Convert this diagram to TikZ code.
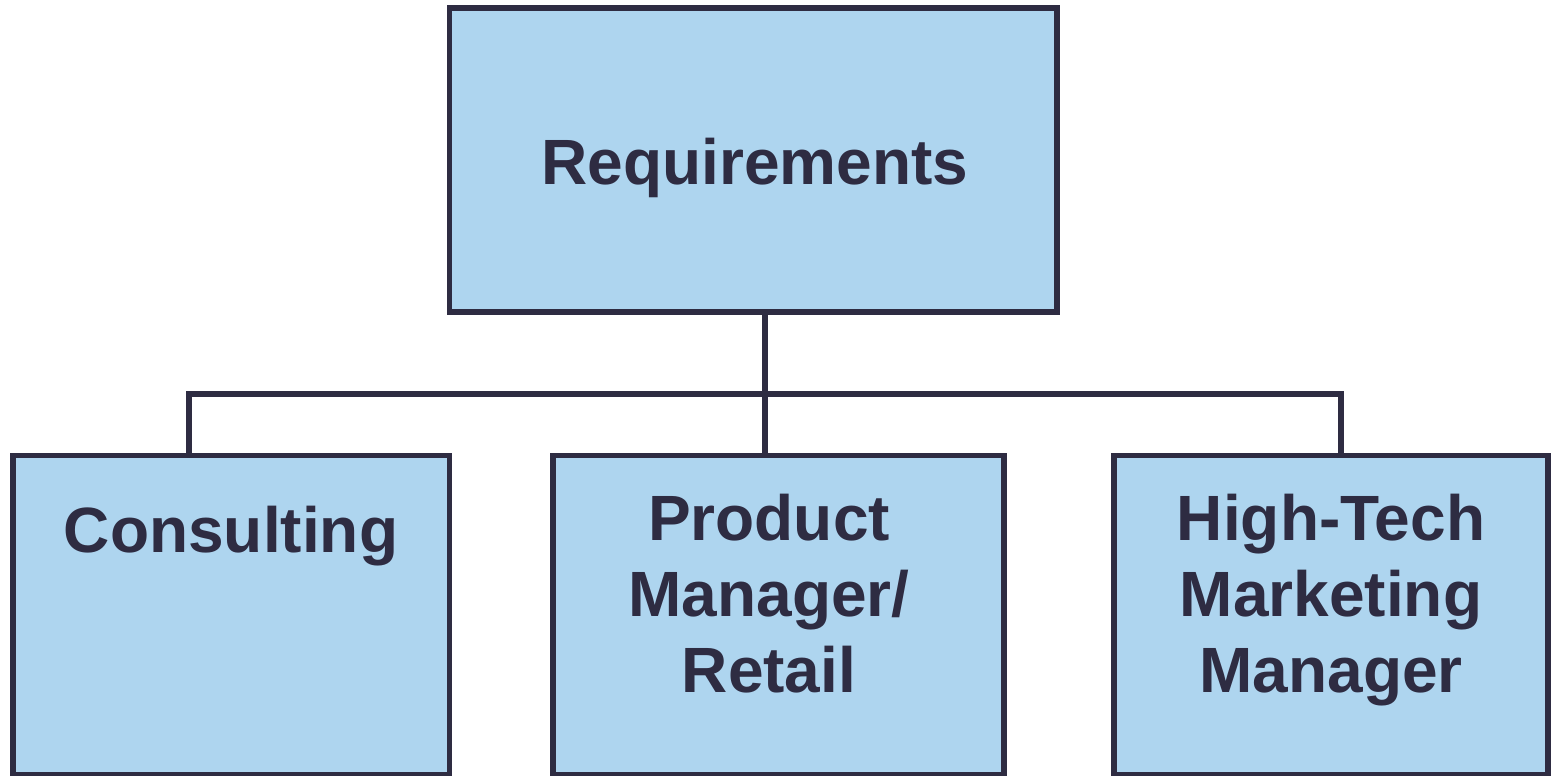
\documentclass[tikz,border=0pt]{standalone}
\usepackage{fontspec}
\setmainfont{Liberation Sans}
\definecolor{boxfill}{HTML}{AED5EF}
\definecolor{ink}{HTML}{2E2C42}
\begin{document}
\begin{tikzpicture}[x=1pt,y=-1pt,
  box/.style={draw=ink,fill=boxfill,line width=5.7pt,rectangle,
    inner sep=0pt,outer sep=0pt},
  label/.style={anchor=base,align=center,text=ink,inner sep=0pt,
    font=\fontsize{64}{76}\selectfont\bfseries},
  link/.style={draw=ink,line width=5.7pt,line join=miter}]
\useasboundingbox (0,0) rectangle (1551,776);

% boxes
\node[box,minimum width=607.8pt,minimum height=304pt]   (req)  at (753.4,160) {};
\node[box,minimum width=436.5pt,minimum height=319.5pt] (cons) at (231.25,615.25) {};
\node[box,minimum width=451pt,minimum height=319.5pt]   (prod) at (778.5,615.25) {};
\node[box,minimum width=434pt,minimum height=319.5pt]   (high) at (1331,615.25) {};

% labels (a multi-line label sits on the baseline of its last line)
\node[label] (reqtext)  at (755,184) {Requirements};
\node[label] (constext) at (231,552) {Consulting};
\node[label] (prodtext) at (769,692) {Product\\Manager/\\Retail};
\node[label] (hightext) at (1331,692) {High-Tech\\Marketing\\Manager};

% connector tree
\coordinate (trunk) at (765.3,394);
\coordinate (cons drop) at (189,394);
\coordinate (high drop) at (1340.7,394);
\draw[link] (req.south -| trunk) -- (prod.north -| trunk);
\draw[link] (cons.north -| cons drop) -- (cons drop) -- (high drop) -- (high.north -| high drop);
\end{tikzpicture}
\end{document}
